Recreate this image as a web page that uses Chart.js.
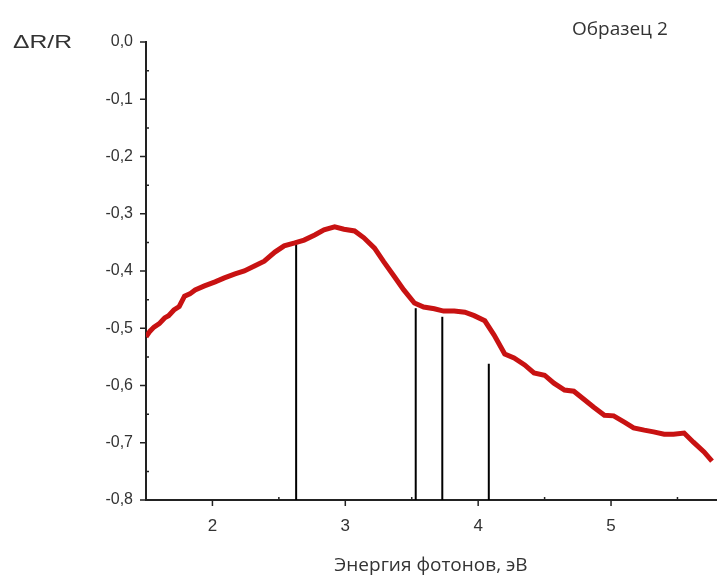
<!DOCTYPE html>
<html>
<head>
<meta charset="utf-8">
<script src="https://cdn.jsdelivr.net/npm/chart.js@4/dist/chart.umd.min.js"></script>
<style>
html,body{margin:0;padding:0;background:#fff;}
canvas{display:block;}
</style>
</head>
<body>
<canvas id="c" width="720" height="585"></canvas>
<script>
// Photon energy (eV) and ΔR/R
const energy = [1.50,1.53,1.56,1.60,1.64,1.67,1.71,1.75,1.79,1.83,1.87,1.94,2.02,2.09,2.17,2.24,2.32,2.39,2.47,2.54,2.62,2.69,2.77,2.84,2.92,2.99,3.07,3.14,3.22,3.29,3.37,3.44,3.52,3.59,3.67,3.74,3.82,3.90,3.97,4.05,4.12,4.20,4.27,4.35,4.42,4.50,4.57,4.65,4.72,4.80,4.87,4.95,5.02,5.10,5.17,5.25,5.32,5.40,5.47,5.55,5.62,5.70,5.76];
const deltaR = [-0.515,-0.505,-0.498,-0.492,-0.482,-0.478,-0.468,-0.462,-0.444,-0.440,-0.433,-0.426,-0.419,-0.412,-0.405,-0.400,-0.391,-0.383,-0.367,-0.356,-0.351,-0.346,-0.337,-0.328,-0.323,-0.327,-0.330,-0.342,-0.360,-0.384,-0.410,-0.433,-0.456,-0.463,-0.466,-0.470,-0.470,-0.472,-0.478,-0.487,-0.512,-0.545,-0.552,-0.564,-0.578,-0.582,-0.596,-0.608,-0.610,-0.625,-0.638,-0.652,-0.653,-0.664,-0.674,-0.678,-0.681,-0.685,-0.685,-0.683,-0.699,-0.716,-0.732];
// Vertical marker lines (energy, top value)
const markerEnergy = [2.63, 3.53, 3.73, 4.08];
const markerTop = [-0.348, -0.465, -0.480, -0.562];
// Axis ticks
const xTicks = [2, 3, 4, 5];
const xMinor = [2.5, 3.5, 4.5, 5.5];
const yTicks = [0, -0.1, -0.2, -0.3, -0.4, -0.5, -0.6, -0.7, -0.8];
const yMinor = [-0.05, -0.15, -0.25, -0.35, -0.45, -0.55, -0.65, -0.75];
const yLabel = 'ΔR/R';
const xLabel = 'Энергия фотонов, эВ';
const sampleLabel = 'Образец 2';

const yMin = -0.8;
const datasets = [{
  data: energy.map((e, i) => ({x: e, y: deltaR[i]})),
  borderColor: 'rgb(200,18,18)',
  borderWidth: 5,
  pointRadius: 0,
  tension: 0,
  order: 0
}];
markerEnergy.forEach((e, i) => {
  datasets.push({
    data: [{x: e, y: yMin}, {x: e, y: markerTop[i]}],
    borderColor: '#000',
    borderWidth: 2,
    pointRadius: 0,
    order: 1
  });
});

const fmt = v => (Math.abs(v) < 1e-9 ? 0 : v).toFixed(1).replace('.', ',');
const FONT = '"Liberation Sans", Arial, sans-serif';

const extras = {
  id: 'extras',
  afterDraw(chart) {
    const ctx = chart.ctx;
    const xs = chart.scales.x, ys = chart.scales.y;
    const ca = chart.chartArea;
    ctx.save();
    ctx.strokeStyle = '#222';
    ctx.lineWidth = 1.5;
    ctx.beginPath();
    xTicks.forEach(v => { const p = xs.getPixelForValue(v); ctx.moveTo(p, ca.bottom); ctx.lineTo(p, ca.bottom + 6); });
    xMinor.forEach(v => { const p = xs.getPixelForValue(v); ctx.moveTo(p, ca.bottom); ctx.lineTo(p, ca.bottom - 3); });
    yTicks.forEach(v => { const p = ys.getPixelForValue(v); ctx.moveTo(ca.left, p); ctx.lineTo(ca.left - 6, p); });
    yMinor.forEach(v => { const p = ys.getPixelForValue(v); ctx.moveTo(ca.left, p); ctx.lineTo(ca.left + 3, p); });
    ctx.stroke();
    ctx.fillStyle = '#333';
    ctx.textBaseline = 'middle';
    ctx.textAlign = 'left';
    ctx.font = '19px ' + FONT;
    ctx.save();
    ctx.translate(13, 43);
    ctx.scale(1.3, 1);
    ctx.fillText(yLabel, 0, 0);
    ctx.restore();
    ctx.font = '19px "Open Sans", ' + FONT;
    ctx.fillText(sampleLabel, 572, 30);
    ctx.restore();
  }
};

new Chart(document.getElementById('c'), {
  type: 'line',
  data: {datasets},
  plugins: [extras],
  options: {
    responsive: false,
    animation: false,
    layout: {padding: {left: 0, right: 4, top: 42, bottom: 0}},
    plugins: {legend: {display: false}, tooltip: {enabled: false}},
    scales: {
      x: {
        type: 'linear',
        min: 1.5,
        max: 5.79,
        afterBuildTicks: s => { s.ticks = xTicks.map(v => ({value: v})); },
        afterFit: s => { s.height = 85; },
        grid: {display: false},
        border: {display: true, color: '#222', width: 2},
        ticks: {
          color: '#333',
          padding: 8,
          font: {family: FONT, size: 17},
          callback: v => String(v)
        },
        title: {
          display: true,
          text: xLabel,
          color: '#333',
          font: {family: '"Open Sans", ' + FONT, size: 19},
          padding: {top: 0, bottom: 8}
        }
      },
      y: {
        type: 'linear',
        min: -0.8,
        max: 0,
        afterBuildTicks: s => { s.ticks = yTicks.map(v => ({value: v})); },
        afterFit: s => { s.width = 146; },
        grid: {display: false},
        border: {display: true, color: '#222', width: 2},
        ticks: {
          color: '#333',
          padding: 5,
          font: {family: FONT, size: 16},
          callback: v => fmt(v)
        }
      }
    }
  }
});
</script>
</body>
</html>
